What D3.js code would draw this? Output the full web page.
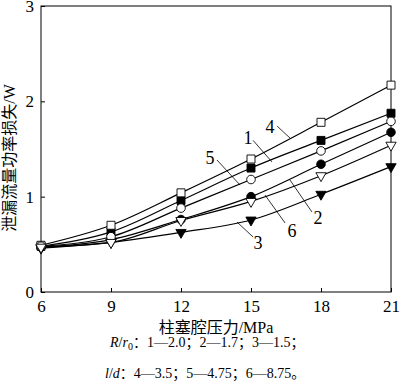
<!DOCTYPE html>
<html>
<head>
<meta charset="utf-8">
<script src="https://cdn.jsdelivr.net/npm/d3@7"></script>
<style>
  body { margin: 0; background: #fff; }
  svg { display: block; }
  text { font-family: "Liberation Serif", "Times New Roman", "DejaVu Serif", "Noto Sans CJK SC", serif; fill: #000; }
</style>
</head>
<body>
<svg id="chart" width="400" height="387"></svg>
<script>
// pressure (MPa)
var pressures = [6, 9, 12, 15, 18, 21];

// leakage power loss (W) per curve
var s1 = [0.48, 0.63, 0.96, 1.30, 1.59, 1.875];   // R/r0 = 2.0
var s2 = [0.47, 0.55, 0.76, 1.00, 1.34, 1.675];   // R/r0 = 1.7
var s3 = [0.46, 0.52, 0.625, 0.755, 1.025, 1.315]; // R/r0 = 1.5
var s4 = [0.49, 0.70, 1.04, 1.395, 1.78, 2.17];   // l/d = 3.5
var s5 = [0.48, 0.58, 0.88, 1.18, 1.48, 1.79];    // l/d = 4.75
var s6 = [0.47, 0.52, 0.75, 0.95, 1.22, 1.54];    // l/d = 8.75

var xTicks = [6, 9, 12, 15, 18, 21];
var yTicks = [0, 1, 2, 3];

var series = [
    { name: '1', values: s1, marker: 'square', filled: true },
    { name: '2', values: s2, marker: 'circle', filled: true },
    { name: '3', values: s3, marker: 'triangle', filled: true },
    { name: '4', values: s4, marker: 'square', filled: false },
    { name: '5', values: s5, marker: 'circle', filled: false },
    { name: '6', values: s6, marker: 'triangle', filled: false }
];

// curve labels: text baseline point, leader start and leader end, in data units
var labels = [
    { text: '4', at: [15.81, 1.67], from: [16.12, 1.74], to: [16.67, 1.615] },
    { text: '1', at: [14.87, 1.55], from: [15.09, 1.59], to: [15.90, 1.364] },
    { text: '5', at: [13.24, 1.34], from: [13.54, 1.385], to: [14.53, 1.122] },
    { text: '2', at: [17.87, 0.71], from: [17.61, 0.84], to: [16.67, 1.175] },
    { text: '6', at: [16.76, 0.577], from: [16.46, 0.724], to: [15.60, 1.017] },
    { text: '3', at: [15.30, 0.451], from: [15.09, 0.577], to: [14.40, 0.734] }
];

var serif = '"Liberation Serif", "Times New Roman", "DejaVu Serif", serif';

var margin = { left: 41, right: 9, top: 6, bottom: 95 };
var width = 400 - margin.left - margin.right;
var height = 387 - margin.top - margin.bottom;

var x = d3.scaleLinear().domain([6, 21]).range([0, width]);
var y = d3.scaleLinear().domain([0, 3]).range([height, 0]);

var svg = d3.select('#chart');
var g = svg.append('g').attr('transform', 'translate(' + margin.left + ',' + margin.top + ')');

// frame
g.append('rect')
    .attr('width', width).attr('height', height)
    .attr('fill', 'none').attr('stroke', '#000').attr('stroke-width', 1);

// axes with inward ticks
var xAxis = g.append('g').attr('transform', 'translate(0,' + height + ')')
    .call(d3.axisBottom(x).tickValues(xTicks).tickFormat(d3.format('d'))
        .tickSizeInner(-4).tickSizeOuter(0).tickPadding(8));
var yAxis = g.append('g')
    .call(d3.axisLeft(y).tickValues(yTicks).tickFormat(d3.format('d'))
        .tickSizeInner(-4).tickSizeOuter(0).tickPadding(7));
[xAxis, yAxis].forEach(function(a) {
    a.attr('font-family', serif).attr('font-size', 17);
    a.select('.domain').remove();
    a.selectAll('line').attr('stroke', '#000');
});

var line = d3.line()
    .x(function(d, i) { return x(pressures[i]); })
    .y(function(d) { return y(d); })
    .curve(d3.curveMonotoneX);

g.selectAll('path.curve')
    .data(series)
    .enter().append('path')
    .attr('class', 'curve')
    .attr('d', function(d) { return line(d.values); })
    .attr('fill', 'none')
    .attr('stroke', '#000')
    .attr('stroke-width', 1.2);

var symbolType = { square: d3.symbolSquare, circle: d3.symbolCircle, triangle: d3.symbolTriangle };
var symbolSize = { square: 64, circle: 58, triangle: 46 };

series.forEach(function(s) {
    g.selectAll(null)
        .data(s.values)
        .enter().append('path')
        .attr('d', d3.symbol().type(symbolType[s.marker]).size(symbolSize[s.marker]))
        .attr('transform', function(d, i) {
            var t = 'translate(' + x(pressures[i]) + ',' + y(d) + ')';
            return s.marker === 'triangle' ? t + ' rotate(180)' : t;
        })
        .attr('fill', s.filled ? '#000' : '#fff')
        .attr('stroke', '#000')
        .attr('stroke-width', 0.9);
});

// curve labels with leader lines
labels.forEach(function(l) {
    g.append('line')
        .attr('x1', x(l.from[0])).attr('y1', y(l.from[1]))
        .attr('x2', x(l.to[0])).attr('y2', y(l.to[1]))
        .attr('stroke', '#000').attr('stroke-width', 0.8);
    g.append('text')
        .attr('x', x(l.at[0])).attr('y', y(l.at[1]))
        .attr('text-anchor', 'middle')
        .style('font-size', '18px')
        .text(l.text);
});

// axis titles
svg.append('text')
    .attr('x', 216).attr('y', 333)
    .attr('text-anchor', 'middle')
    .style('font-size', '16px')
    .text('柱塞腔压力/MPa');

svg.append('text')
    .attr('transform', 'translate(15,158) rotate(-90)')
    .attr('text-anchor', 'middle')
    .style('font-size', '16px')
    .text('泄漏流量功率损失/W');

// caption
var cap1 = svg.append('text').attr('x', 110).attr('y', 347).style('font-size', '14px');
cap1.append('tspan').style('font-style', 'italic').text('R');
cap1.append('tspan').text('/');
cap1.append('tspan').style('font-style', 'italic').text('r');
cap1.append('tspan').attr('dy', 3).style('font-size', '10px').text('0');
cap1.append('tspan').attr('dy', -3).text('：1—2.0；2—1.7；3—1.5；');

var cap2 = svg.append('text').attr('x', 105).attr('y', 378).style('font-size', '14px');
cap2.append('tspan').style('font-style', 'italic').text('l');
cap2.append('tspan').text('/');
cap2.append('tspan').style('font-style', 'italic').text('d');
cap2.append('tspan').text('：4—3.5；5—4.75；6—8.75。');
</script>
</body>
</html>
